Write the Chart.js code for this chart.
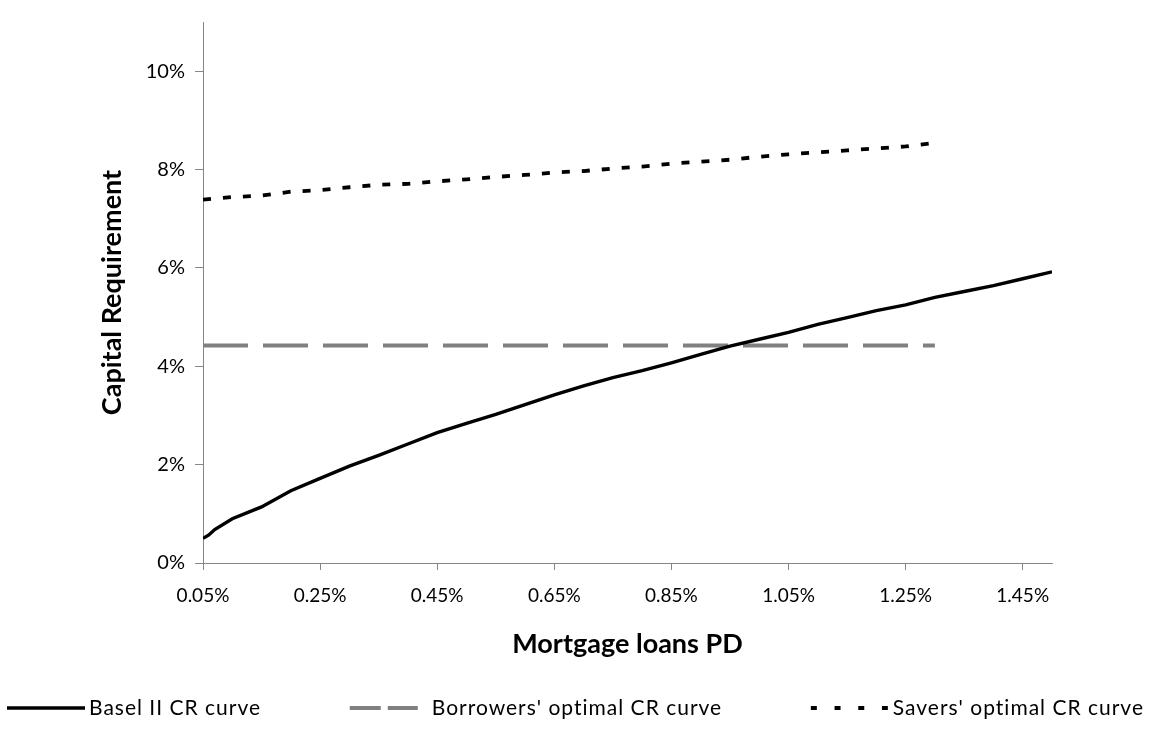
<!DOCTYPE html>
<html>
<head>
<meta charset="utf-8">
<title>Capital Requirement vs Mortgage loans PD</title>
<script src="https://cdn.jsdelivr.net/npm/chart.js@4.4.1/dist/chart.umd.min.js"></script>
<style>
  html, body { margin: 0; padding: 0; background: #fff; }
</style>
</head>
<body>
<canvas id="crChart" width="1154" height="738"></canvas>
<script>
// Mortgage loans PD (%) and capital requirement (%)
const pdBasel = [0.05, 0.06, 0.07, 0.10, 0.15, 0.20, 0.25, 0.30, 0.35, 0.40, 0.45, 0.50, 0.55, 0.60, 0.65,
                 0.70, 0.75, 0.80, 0.85, 0.90, 0.95, 1.00, 1.05, 1.10, 1.15, 1.20, 1.25, 1.30, 1.35, 1.40, 1.45, 1.50];
const baselCR = [0.50, 0.57, 0.68, 0.90, 1.14, 1.47, 1.72, 1.97, 2.19, 2.42, 2.65, 2.84, 3.02, 3.22, 3.42,
                 3.60, 3.77, 3.91, 4.07, 4.24, 4.41, 4.55, 4.69, 4.85, 4.99, 5.13, 5.25, 5.40, 5.52, 5.64, 5.78, 5.92];

const pdBorrowers = [0.05, 1.30];
const borrowersCR = [4.42, 4.42];

const pdSavers = [0.05, 0.10, 0.15, 0.20, 0.25, 0.30, 0.35, 0.40, 0.45, 0.50, 0.55, 0.60, 0.65,
                  0.70, 0.75, 0.80, 0.85, 0.90, 0.95, 1.00, 1.05, 1.10, 1.15, 1.20, 1.25, 1.30];
const saversCR = [7.39, 7.44, 7.47, 7.55, 7.58, 7.64, 7.69, 7.71, 7.76, 7.80, 7.85, 7.89, 7.94,
                  7.97, 8.02, 8.06, 8.12, 8.16, 8.20, 8.26, 8.31, 8.35, 8.39, 8.43, 8.47, 8.54];

const xTicks = [0.05, 0.25, 0.45, 0.65, 0.85, 1.05, 1.25, 1.45];
const yTicks = [0, 2, 4, 6, 8, 10];

const FONT = 'Lato, "Liberation Sans", sans-serif';
const AXIS_GREY = '#868686';

function toPoints(xs, ys) {
    return xs.map((x, i) => ({ x: x, y: ys[i] }));
}

// Excel-style legend: one row across the bottom, items spread evenly
const bottomLegend = {
    id: 'bottomLegend',
    afterDraw(chart, args, opts) {
        const ctx = chart.ctx;
        const items = chart.data.datasets;
        ctx.save();
        ctx.font = opts.fontSize + 'px ' + FONT;
        ctx.letterSpacing = opts.letterSpacing + 'px';
        const widths = items.map(ds => opts.textOffset + ctx.measureText(ds.label).width);
        const total = widths.reduce((a, b) => a + b, 0);
        const gap = (chart.width - opts.left - opts.right - total) / (items.length - 1);
        let x = opts.left;
        items.forEach((ds, i) => {
            ctx.beginPath();
            ctx.setLineDash(ds.legendDash || []);
            ctx.lineWidth = ds.borderWidth;
            ctx.strokeStyle = ds.borderColor;
            ctx.moveTo(x, opts.y);
            ctx.lineTo(x + ds.legendSample, opts.y);
            ctx.stroke();
            ctx.setLineDash([]);
            ctx.fillStyle = '#000';
            ctx.textBaseline = 'middle';
            ctx.fillText(ds.label, x + opts.textOffset, opts.y);
            x += widths[i] + gap;
        });
        ctx.restore();
    }
};

const ctx = document.getElementById('crChart').getContext('2d');
new Chart(ctx, {
    type: 'line',
    data: {
        datasets: [
            {
                label: 'Basel II CR curve',
                data: toPoints(pdBasel, baselCR),
                borderColor: '#000',
                borderWidth: 3.4,
                legendSample: 78,
                pointRadius: 0,
                tension: 0,
                fill: false
            },
            {
                label: "Borrowers' optimal CR curve",
                data: toPoints(pdBorrowers, borrowersCR),
                borderColor: '#808080',
                borderWidth: 4,
                borderDash: [45, 15],
                legendDash: [31, 7],
                legendSample: 68,
                pointRadius: 0,
                fill: false
            },
            {
                label: "Savers' optimal CR curve",
                data: toPoints(pdSavers, saversCR),
                borderColor: '#000',
                borderWidth: 3.8,
                borderDash: [8, 12],
                legendDash: [6, 17.7],
                legendSample: 77,
                pointRadius: 0,
                tension: 0,
                fill: false
            }
        ]
    },
    options: {
        responsive: false,
        animation: false,
        layout: { padding: { top: 11, right: 102, left: 0, bottom: 0 } },
        plugins: {
            legend: { display: false },
            tooltip: { enabled: false },
            bottomLegend: {
                y: 708,
                left: 7,
                right: 10,
                fontSize: 21,
                letterSpacing: 1,
                textOffset: 82
            }
        },
        scales: {
            x: {
                type: 'linear',
                min: 0.05,
                max: 1.5,
                afterBuildTicks: scale => { scale.ticks = xTicks.map(v => ({ value: v })); },
                afterFit: scale => { scale.height = 175; },
                grid: { drawOnChartArea: false, tickLength: 7, color: AXIS_GREY },
                border: { color: AXIS_GREY },
                ticks: {
                    autoSkip: false,
                    maxRotation: 0,
                    padding: 14,
                    color: '#000',
                    font: { family: FONT, size: 19 },
                    callback: v => v.toFixed(2) + '%'
                },
                title: {
                    display: true,
                    text: 'Mortgage loans PD',
                    color: '#000',
                    font: { family: FONT, size: 27, weight: 'bold' },
                    padding: { top: 0, bottom: 78 }
                }
            },
            y: {
                min: 0,
                max: 11,
                afterBuildTicks: scale => { scale.ticks = yTicks.map(v => ({ value: v })); },
                afterFit: scale => { scale.width = 203; },
                grid: { drawOnChartArea: false, tickLength: 8, color: AXIS_GREY },
                border: { color: AXIS_GREY },
                ticks: {
                    padding: 10,
                    color: '#000',
                    font: { family: FONT, size: 20 },
                    callback: v => v + '%'
                },
                title: {
                    display: true,
                    text: 'Capital Requirement',
                    color: '#000',
                    font: { family: FONT, size: 27, weight: 'bold' },
                    padding: { top: 96, bottom: 0 }
                }
            }
        }
    },
    plugins: [bottomLegend]
});
</script>
</body>
</html>
